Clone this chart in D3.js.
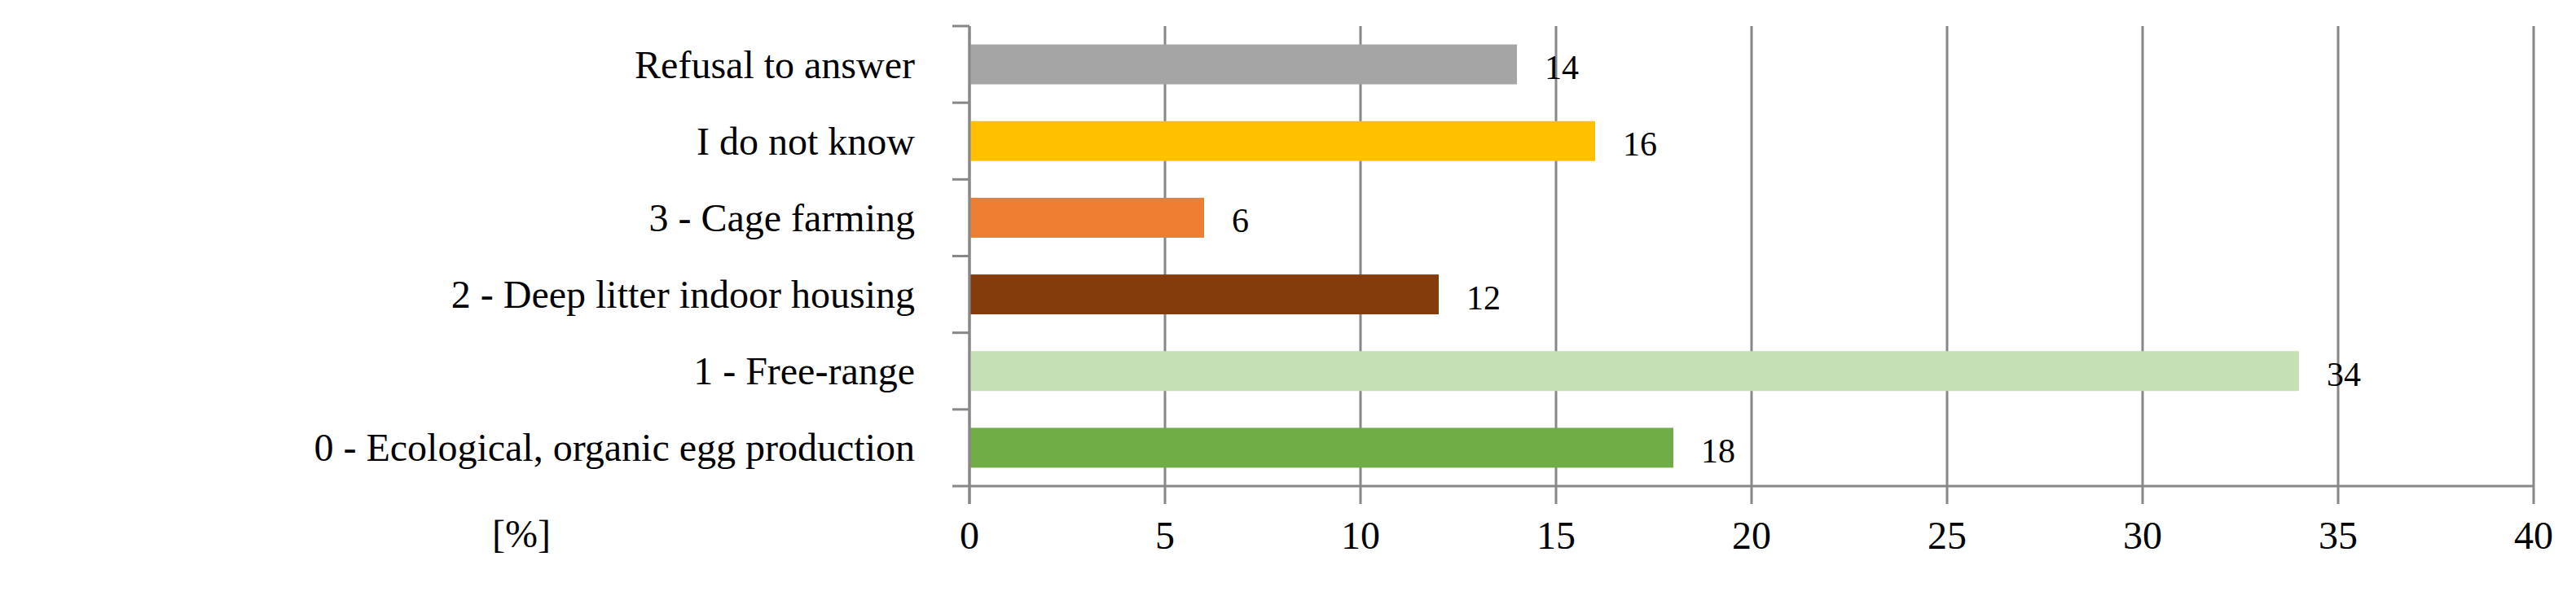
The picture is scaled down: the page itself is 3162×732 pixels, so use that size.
<!DOCTYPE html>
<html><head><meta charset="utf-8">
<script src="https://cdn.jsdelivr.net/npm/d3@7"></script>
<style>body{margin:0;background:#fff}text{font-family:"Liberation Serif","Times New Roman",serif}</style>
</head><body>
<script>
var categories = ["Refusal to answer", "I do not know", "3 - Cage farming", "2 - Deep litter indoor housing", "1 - Free-range", "0 - Ecological, organic egg production"];
var values = [14, 16, 6, 12, 34, 18];
var colors = ["#a5a5a5", "#ffc000", "#ed7d31", "#843c0c", "#c5e0b4", "#70ad47"];
var xTicks = [0, 5, 10, 15, 20, 25, 30, 35, 40];

var width = 3162, height = 732,
    plotLeft = 1190, plotRight = 3110, plotTop = 32, plotBottom = 597;

var svg = d3.select("body").append("svg").attr("width", width).attr("height", height);

var x = d3.scaleLinear().domain([0, 40]).range([plotLeft, plotRight]);
var y = d3.scaleBand().domain(categories).range([plotTop, plotBottom]).paddingInner(0.48).paddingOuter(0.24);

// grid
svg.selectAll(".grid").data(xTicks).enter().append("line")
   .attr("x1", d => x(d)).attr("x2", d => x(d))
   .attr("y1", plotTop).attr("y2", plotBottom + 22)
   .attr("stroke", "#888").attr("stroke-width", 3);

// bars
svg.selectAll(".bar").data(values).enter().append("rect")
   .attr("x", x(0)).attr("y", (d, i) => y(categories[i]))
   .attr("width", d => x(d) - x(0)).attr("height", y.bandwidth())
   .attr("fill", (d, i) => colors[i]);

// y axis with band ticks
var step = (plotBottom - plotTop) / categories.length;
svg.append("line").attr("x1", plotLeft).attr("x2", plotLeft).attr("y1", plotTop).attr("y2", plotBottom + 22)
   .attr("stroke", "#888").attr("stroke-width", 3);
svg.append("line").attr("x1", plotLeft - 21).attr("x2", plotRight).attr("y1", plotBottom).attr("y2", plotBottom)
   .attr("stroke", "#888").attr("stroke-width", 3);
svg.selectAll(".ytick").data(d3.range(categories.length)).enter().append("line")
   .attr("x1", plotLeft - 21).attr("x2", plotLeft)
   .attr("y1", d => plotTop + d * step).attr("y2", d => plotTop + d * step)
   .attr("stroke", "#888").attr("stroke-width", 3);

// category labels
svg.selectAll(".cat").data(categories).enter().append("text")
   .attr("x", 1123).attr("y", d => y(d) + y.bandwidth() / 2)
   .attr("text-anchor", "end").attr("dominant-baseline", "central")
   .attr("font-size", 48).attr("fill", "#000").text(d => d);

// value labels
svg.selectAll(".val").data(values).enter().append("text")
   .attr("x", d => x(d) + 34).attr("y", (d, i) => y(categories[i]) + y.bandwidth() / 2 + 4)
   .attr("dominant-baseline", "central")
   .attr("font-size", 42).attr("fill", "#000").text(d => d);

// x tick labels
svg.selectAll(".xt").data(xTicks).enter().append("text")
   .attr("x", d => x(d)).attr("y", 657)
   .attr("text-anchor", "middle").attr("dominant-baseline", "central")
   .attr("font-size", 48).attr("fill", "#000").text(d => d);

svg.append("text").attr("x", 640).attr("y", 655)
   .attr("text-anchor", "middle").attr("dominant-baseline", "central")
   .attr("font-size", 48).text("[%]");
</script>
</body></html>
